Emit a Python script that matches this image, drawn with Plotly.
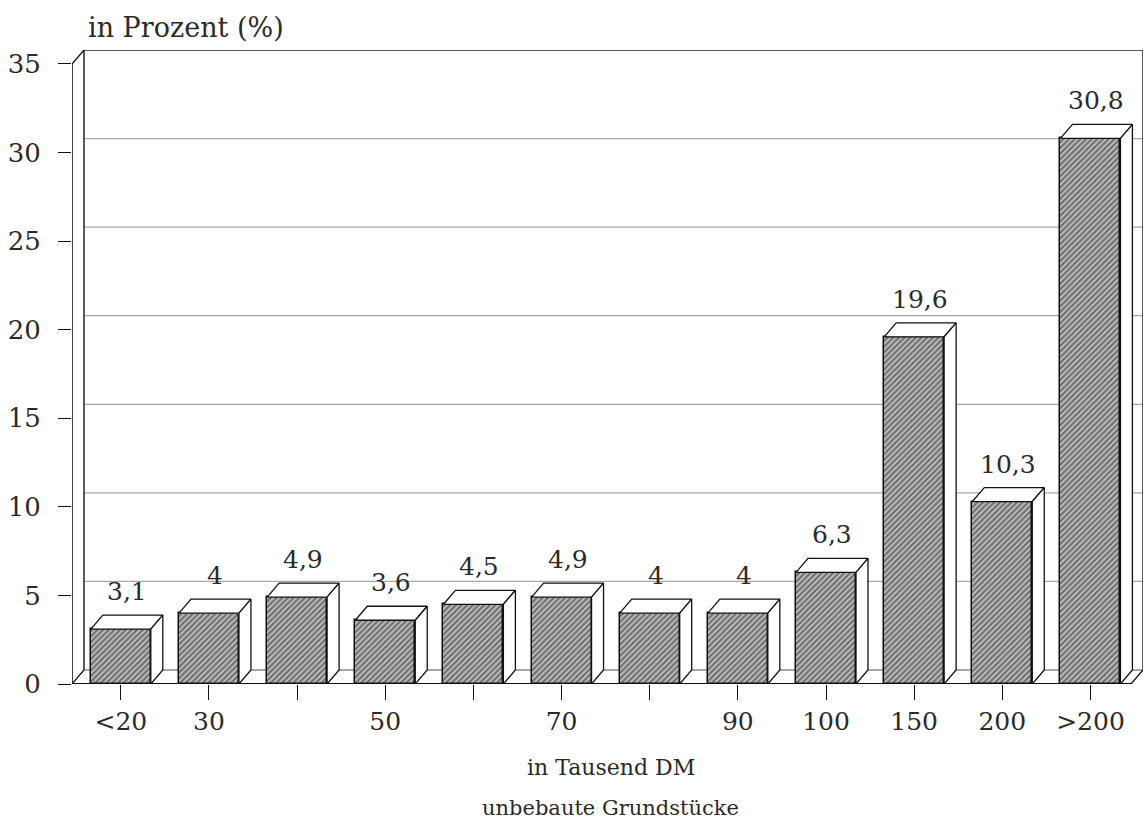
import plotly.graph_objects as go

# Price classes (thousand DM) and share of undeveloped plots in percent
categories = ["<20", "30", "40", "50", "60", "70", "80", "90", "100", "150", "200", ">200"]
tick_labels = ["<20", "30", "", "50", "", "70", "", "90", "100", "150", "200", ">200"]
values = [3.1, 4.0, 4.9, 3.6, 4.5, 4.9, 4.0, 4.0, 6.3, 19.6, 10.3, 30.8]
value_labels = ["3,1", "4", "4,9", "3,6", "4,5", "4,9", "4", "4", "6,3", "19,6", "10,3", "30,8"]
y_ticks = [0, 5, 10, 15, 20, 25, 30, 35]

FONT = "DejaVu Serif"
INK = "#2a2a2a"
BAR_W = 0.68      # front face width (category units)
DX = 0.136        # depth offset along x (category units)
DY = 0.79         # depth offset along y (percent units)
X0 = -0.554       # front-left corner of the box
X1 = 11.46        # front-right corner of the floor
Y_TOP = 35

xs = list(range(len(categories)))

fig = go.Figure()

# front faces of the bars, hatched
fig.add_trace(go.Bar(
    x=xs, y=values, width=BAR_W,
    marker=dict(color="#c4c4c4",
                line=dict(color="#111", width=1.5),
                pattern=dict(shape="/", fgcolor="#1a1a1a", bgcolor="#c4c4c4",
                             size=4, solidity=0.55)),
    hoverinfo="skip", showlegend=False,
))

# top and side faces give the bars their depth
for x, v in zip(xs, values):
    l, r = x - BAR_W / 2, x + BAR_W / 2
    fig.add_trace(go.Scatter(
        x=[l, r, r + DX, l + DX, l], y=[v, v, v + DY, v + DY, v],
        mode="lines", fill="toself", fillcolor="white",
        line=dict(color="#111", width=1.3), hoverinfo="skip", showlegend=False))
    fig.add_trace(go.Scatter(
        x=[r, r + DX, r + DX, r, r], y=[0, DY, v + DY, v, 0],
        mode="lines", fill="toself", fillcolor="white",
        line=dict(color="#111", width=1.3), hoverinfo="skip", showlegend=False))

shapes = []
# gridlines on the back wall
for t in y_ticks[1:-1]:
    shapes.append(dict(type="line", xref="x", yref="y", layer="below",
                       x0=X0 + DX, x1=X1 + DX, y0=t + DY, y1=t + DY,
                       line=dict(color="#a8a8a8", width=1.3)))
# back wall outline
shapes += [
    dict(type="line", xref="x", yref="y", layer="below",
         x0=X0 + DX, x1=X0 + DX, y0=DY, y1=Y_TOP + DY, line=dict(color="#222", width=1.5)),
    dict(type="line", xref="x", yref="y", layer="below",
         x0=X0 + DX, x1=X1 + DX, y0=Y_TOP + DY, y1=Y_TOP + DY, line=dict(color="#222", width=1.5)),
    dict(type="line", xref="x", yref="y", layer="below",
         x0=X1 + DX, x1=X1 + DX, y0=DY, y1=Y_TOP + DY, line=dict(color="#222", width=1.5)),
    dict(type="line", xref="x", yref="y", layer="below",
         x0=X0 + DX, x1=X1 + DX, y0=DY, y1=DY, line=dict(color="#555", width=1.2)),
]
# front value axis and floor edges
shapes += [
    dict(type="line", xref="x", yref="y", layer="above",
         x0=X0, x1=X0, y0=0, y1=Y_TOP, line=dict(color="#111", width=1.6)),
    dict(type="line", xref="x", yref="y", layer="above",
         x0=X0, x1=X0 + DX, y0=Y_TOP, y1=Y_TOP + DY, line=dict(color="#111", width=1.3)),
    dict(type="line", xref="x", yref="y", layer="below",
         x0=X0, x1=X0 + DX, y0=0, y1=DY, line=dict(color="#111", width=1.2)),
    dict(type="line", xref="x", yref="y", layer="above",
         x0=X0 - 0.08, x1=X1, y0=0, y1=0, line=dict(color="#111", width=2)),
    dict(type="line", xref="x", yref="y", layer="above",
         x0=X1, x1=X1 + DX, y0=0, y1=DY, line=dict(color="#111", width=1.3)),
]

annotations = [
    dict(text="in Prozent (%)", xref="paper", yref="paper", x=0.013, y=1.035,
         xanchor="left", yanchor="middle", showarrow=False,
         font=dict(family=FONT, size=27, color=INK)),
    dict(text="in Tausend DM", xref="paper", yref="paper", x=0.503, y=-0.131,
         xanchor="center", yanchor="middle", showarrow=False,
         font=dict(family=FONT, size=22, color=INK)),
    dict(text="unbebaute Grundstücke", xref="paper", yref="paper", x=0.503, y=-0.195,
         xanchor="center", yanchor="middle", showarrow=False,
         font=dict(family=FONT, size=21, color=INK)),
]
# value labels above each bar
for x, v, s in zip(xs, values, value_labels):
    annotations.append(dict(
        text=s, x=x + DX / 2, y=v + DY, xref="x", yref="y",
        xanchor="center", yanchor="bottom", yshift=7, showarrow=False,
        font=dict(family=FONT, size=25, color=INK)))

fig.update_layout(
    width=1144, height=823,
    margin=dict(l=72, r=1, t=50, b=139),
    paper_bgcolor="white", plot_bgcolor="white",
    bargap=0, shapes=shapes, annotations=annotations,
    xaxis=dict(range=[X0, X1 + DX], tickmode="array", tickvals=xs, ticktext=tick_labels,
               ticks="outside", ticklen=15, tickwidth=1.3, tickcolor="#111",
               showgrid=False, zeroline=False, showline=False,
               tickfont=dict(family=FONT, size=25, color=INK)),
    yaxis=dict(range=[0, Y_TOP + DY], tickmode="array", tickvals=y_ticks,
               ticks="outside", ticklen=13, tickwidth=1.3, tickcolor="#111",
               ticklabelstandoff=12,
               showgrid=False, zeroline=False, showline=False,
               tickfont=dict(family=FONT, size=26, color=INK)),
)

fig.write_html("out.html")
